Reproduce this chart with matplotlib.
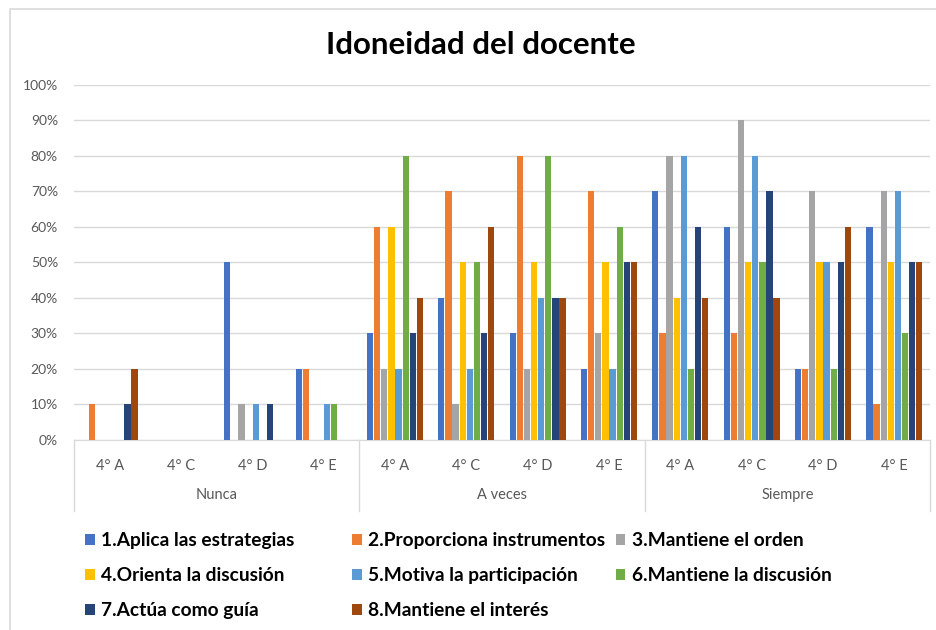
import numpy as np
import matplotlib.pyplot as plt
from matplotlib.patches import Rectangle

# data (percent)
grupos = ["Nunca", "A veces", "Siempre"]
cursos = ["4° A", "4° C", "4° D", "4° E"]
series = ["1.Aplica las estrategias", "2.Proporciona instrumentos", "3.Mantiene el orden",
          "4.Orienta la discusión", "5.Motiva la participación", "6.Mantiene la discusión",
          "7.Actúa como guía", "8.Mantiene el interés"]
colores = ["#4472C4", "#ED7D31", "#A5A5A5", "#FFC000", "#5B9BD5", "#70AD47", "#264478", "#9E480E"]

# one list per series, 12 values: Nunca (A,C,D,E), A veces (A,C,D,E), Siempre (A,C,D,E)
s1 = [0, 0, 50, 20, 30, 40, 30, 20, 70, 60, 20, 60]
s2 = [10, 0, 0, 20, 60, 70, 80, 70, 30, 30, 20, 10]
s3 = [0, 0, 10, 0, 20, 10, 20, 30, 80, 90, 70, 70]
s4 = [0, 0, 0, 0, 60, 50, 50, 50, 40, 50, 50, 50]
s5 = [0, 0, 10, 10, 20, 20, 40, 20, 80, 80, 50, 70]
s6 = [0, 0, 0, 10, 80, 50, 80, 60, 20, 50, 20, 30]
s7 = [10, 0, 10, 0, 30, 30, 40, 50, 60, 70, 50, 50]
s8 = [20, 0, 0, 0, 40, 60, 40, 50, 40, 40, 60, 50]
valores = [s1, s2, s3, s4, s5, s6, s7, s8]

plt.rcParams["font.family"] = ["Lato", "DejaVu Sans"]

fig = plt.figure(figsize=(9.36, 6.30), dpi=100)
ax = fig.add_axes([0.079, 0.3016, 0.9146, 0.5635])

# chart border
fig.patches.append(Rectangle((10 / 936, -0.1), 1.2, 1.1 - 9 / 630, transform=fig.transFigure,
                             fill=False, edgecolor="#D9D9D9", linewidth=1.2))

n = len(grupos) * len(cursos)
x = np.arange(n)
paso = 0.1
barras = []
for i, (vals, col) in enumerate(zip(valores, colores)):
    b = ax.bar(x + (i - 3.5) * paso, np.array(vals) / 100, width=paso * 0.88,
               color=col, label=series[i], zorder=3)
    barras.append(b)

ax.set_xlim(-0.5, n - 0.5)
ax.set_ylim(0, 1)
ax.set_yticks(np.arange(0, 1.01, 0.1))
ax.set_yticklabels([f"{int(round(v * 100))}%" for v in np.arange(0, 1.01, 0.1)])
ax.grid(axis="y", color="#D9D9D9", linewidth=1, zorder=0)
for s in ["top", "right", "left"]:
    ax.spines[s].set_visible(False)
ax.spines["bottom"].set_color("#D9D9D9")
ax.tick_params(axis="y", length=0, labelsize=10, labelcolor="#595959", pad=11.5)
ax.tick_params(axis="x", length=0, labelsize=10.5, labelcolor="#595959", pad=14)
ax.set_xticks(x)
ax.set_xticklabels(cursos * len(grupos))

# group labels and separators under the axis
trans = ax.get_xaxis_transform()
for g, nombre in enumerate(grupos):
    centro = g * len(cursos) + (len(cursos) - 1) / 2
    ax.text(centro, -0.155, nombre, transform=trans, ha="center", va="center",
            fontsize=10.5, color="#595959")
for b in range(len(grupos) + 1):
    xb = b * len(cursos) - 0.5
    ax.plot([xb, xb], [0, -0.2], transform=trans, color="#D9D9D9", linewidth=1,
            clip_on=False)

fig.text(0.514, 0.929, "Idoneidad del docente", ha="center", va="center",
         fontsize=22.5, fontweight="bold", color="black")

# legend in three fixed-width columns, like Excel
columnas = [[0, 3, 6], [1, 4, 7], [2, 5]]
x_col = [0.091, 0.376, 0.658]
for xc, idx in zip(x_col, columnas):
    leg = fig.legend([barras[k] for k in idx], [series[k] for k in idx],
                     loc="upper left", bbox_to_anchor=(xc, 1 - 532 / 630), frameon=False,
                     prop={"weight": "bold", "size": 13.8}, handlelength=0.5,
                     handleheight=0.5, handletextpad=0.35, labelspacing=0.95,
                     borderaxespad=0, borderpad=0)

fig.savefig("out.png", dpi=100)
